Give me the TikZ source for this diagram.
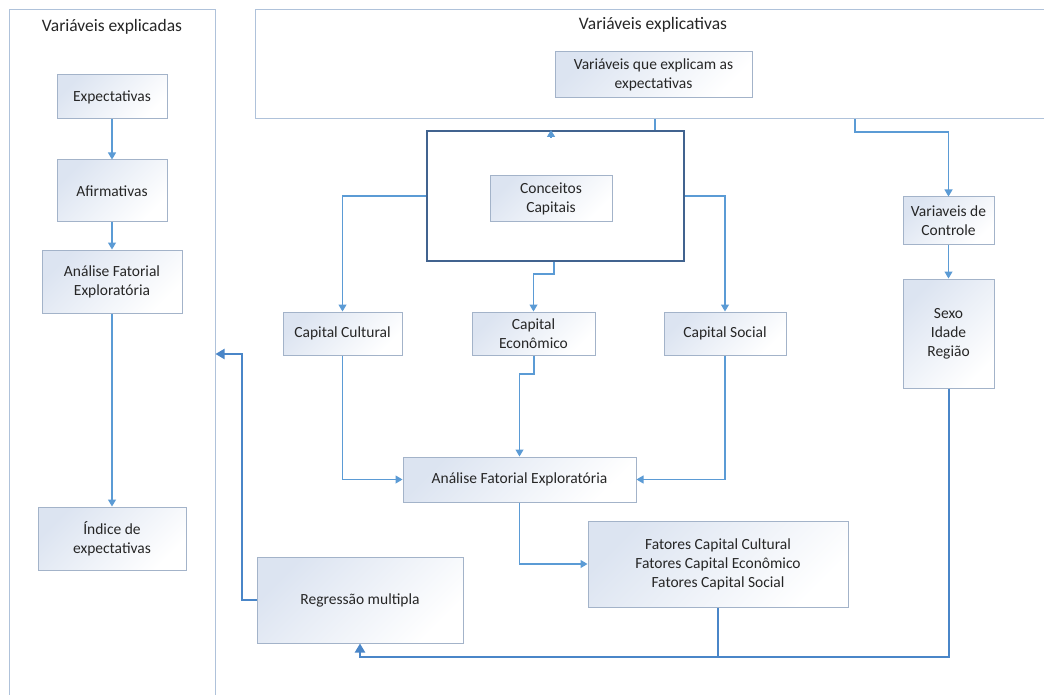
\documentclass[tikz,border=0pt]{standalone}
\usepackage{fontspec}
\setmainfont{Carlito}
\usetikzlibrary{arrows.meta,calc}
\definecolor{boxline}{HTML}{A3B3C9}
\definecolor{boxtop}{HTML}{DCE4F1}
\definecolor{conn}{HTML}{5B9BD5}
\definecolor{thickc}{HTML}{4A86C8}
\definecolor{panline}{HTML}{AFC2DA}
\definecolor{bigline}{HTML}{41638F}
\definecolor{txt}{HTML}{262626}
\tikzset{
  box/.style={draw=boxline, line width=1pt, top color=boxtop, bottom color=white, shading angle=45,
    inner sep=0pt, align=center, text=txt, font=\fontsize{15.5}{19}\selectfont},
  panel/.style={draw=panline, line width=1pt, fill=white, inner sep=0pt},
  bigbox/.style={draw=bigline, line width=2pt, fill=white, inner sep=0pt},
  ttl/.style={text=txt, font=\fontsize{17.5}{21}\selectfont, inner sep=0pt},
  conn/.style={draw=conn, line width=1.1pt},
  carrow/.style={conn, -{Triangle[width=8pt,length=7pt]}},
  thick/.style={draw=thickc, line width=2pt},
  tarrow/.style={thick, -{Triangle[width=10pt,length=9pt]}}
}
\begin{document}
\begin{tikzpicture}[x=1pt,y=-1pt]
\useasboundingbox (0,0) rectangle (1044,695);
\fill[white] (0,0) rectangle (1044,695);
\clip (0,0) rectangle (1044,695);
% panels
\node[panel, minimum width=206pt, minimum height=700pt] (panL) at (112,360) {};
\node[ttl] (tL) at (112,27) {Variáveis explicadas};
\node[panel, minimum width=800pt, minimum height=109pt] (panR) at (655,64.5) {};
\node[ttl] (tR) at (653,25) {Variáveis explicativas};
\node[box, minimum width=197pt, minimum height=46pt] (varExp) at (653.5,75) {Variáveis que explicam as\\expectativas};
% left column
\node[box, minimum width=110pt, minimum height=44pt] (expect) at (112,97) {Expectativas};
\node[box, minimum width=110pt, minimum height=62pt] (afirm) at (112,191) {Afirmativas};
\node[box, minimum width=140pt, minimum height=63pt] (afeL) at (112,281.5) {Análise Fatorial\\Exploratória};
\node[box, minimum width=148pt, minimum height=63pt] (indice) at (112,538.5) {Índice de\\expectativas};
% central
\node[bigbox, minimum width=257pt, minimum height=130pt] (big) at (555.5,196) {};
\node[box, minimum width=122pt, minimum height=46pt] (concept) at (551,199) {Conceitos\\Capitais};
\node[box, minimum width=119pt, minimum height=43pt] (capCult) at (342.5,333.5) {Capital Cultural};
\node[box, minimum width=123pt, minimum height=43pt] (capEcon) at (533.5,333.5) {Capital\\Econômico};
\node[box, minimum width=122pt, minimum height=43pt] (capSoc) at (725,333.5) {Capital Social};
\node[box, minimum width=233pt, minimum height=45pt] (afeC) at (519.5,479.5) {Análise Fatorial Exploratória};
\node[box, minimum width=260pt, minimum height=86pt] (fatores) at (718,564) {Fatores Capital Cultural\\Fatores Capital Econômico\\Fatores Capital Social};
\node[box, minimum width=206pt, minimum height=86pt] (regr) at (360,600) {Regressão multipla};
% right
\node[box, minimum width=91pt, minimum height=47pt] (varCtrl) at (948.5,220.5) {Variaveis de\\Controle};
\node[box, minimum width=91pt, minimum height=109pt] (sexo) at (948.5,333.5) {Sexo\\Idade\\Região};
% helper coordinates
\coordinate (j1) at (655,125);
\coordinate (j2) at (855,132);
\coordinate (b1) at (554,274);
\coordinate (e1) at (534,374);
\coordinate (bot) at (718,657);
\coordinate (lft) at (242,354);
% left connectors
\draw[carrow] (expect.south) -- (afirm.north);
\draw[carrow] (afirm.south) -- (afeL.north);
\draw[carrow] (afeL.south) -- (indice.north);
% top connectors
\draw[conn] (panR.south -| j1) -- (big.north -| j1);
\draw[carrow] ([yshift=-7pt]big.north -| concept.north) -- (big.north -| concept.north);
\draw[carrow] (panR.south -| j2) -- (j2) -| (varCtrl.north);
\draw[carrow] (varCtrl.south) -- (sexo.north);
% central connectors
\draw[carrow] (big.west) -| (capCult.north);
\draw[carrow] (big.east) -| (capSoc.north);
\draw[carrow] (big.south -| b1) -- (b1) -| (capEcon.north);
\draw[carrow] (capCult.south) |- (afeC.west);
\draw[carrow] (capSoc.south) |- (afeC.east);
\draw[carrow] (capEcon.south -| e1) -- (e1) -| (afeC.north);
\draw[carrow] (afeC.south) |- (fatores.west);
% thick connectors
\draw[tarrow] (fatores.south) -- (bot) -| (regr.south);
\draw[thick] (sexo.south) |- (bot);
\draw[tarrow] (regr.west) -| (lft) -- (lft -| panL.east);
\end{tikzpicture}
\end{document}
